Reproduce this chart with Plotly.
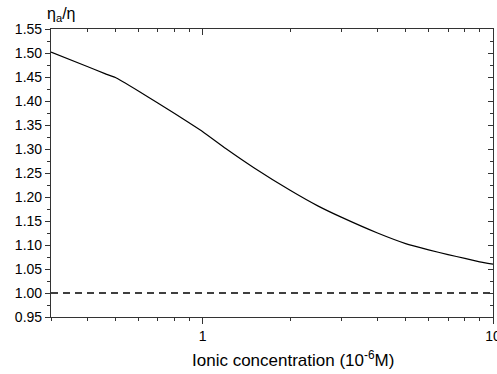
import plotly.graph_objects as go
import numpy as np

# ionic concentration (10^-6 M) and ratio eta_a/eta
conc = [0.3, 0.4, 0.46, 0.5, 0.6, 0.7, 0.8, 0.9, 1.0, 1.2, 1.5, 2, 2.5, 3, 4, 5, 6, 7, 8, 9, 10]
ratio = [1.502, 1.472, 1.457, 1.449, 1.421, 1.396, 1.374, 1.354, 1.336, 1.301, 1.261, 1.214,
         1.181, 1.158, 1.125, 1.103, 1.090, 1.080, 1.072, 1.065, 1.060]
ref_conc = [0.3, 10]
ref_ratio = [1.0, 1.0]

yticks = [0.95, 1.00, 1.05, 1.10, 1.15, 1.20, 1.25, 1.30, 1.35, 1.40, 1.45, 1.50, 1.55]
xticks = [1, 10]
xminor = [0.3, 0.4, 0.5, 0.6, 0.7, 0.8, 0.9, 2, 3, 4, 5, 6, 7, 8, 9]
yminor = list(np.round(np.arange(0.975, 1.55, 0.05), 3))

font = "Arial, Liberation Sans, sans-serif"
xr = [np.log10(0.3), 1]
yr = [0.95, 1.55]

fig = go.Figure()
fig.add_trace(go.Scatter(x=conc, y=ratio, mode="lines", line_shape="spline",
                         line=dict(color="black", width=1.2, smoothing=0.4), showlegend=False))
fig.add_trace(go.Scatter(x=ref_conc, y=ref_ratio, mode="lines",
                         line=dict(color="black", width=1.3, dash="7px,5px"), showlegend=False))
# invisible trace so the mirrored top/right axes get drawn
fig.add_trace(go.Scatter(x=ref_conc, y=ref_ratio, xaxis="x2", yaxis="y2", mode="lines",
                         line=dict(width=0), hoverinfo="skip", showlegend=False))

fig.update_layout(
    width=497, height=374,
    margin=dict(l=51, r=4, t=29, b=57, autoexpand=False),
    paper_bgcolor="white", plot_bgcolor="white",
    font=dict(family=font, size=13, color="black"),
    xaxis=dict(type="log", range=xr, tickvals=xticks, ticktext=["1", "10"],
               ticks="outside", ticklen=6, tickcolor="#333", showgrid=False,
               showline=True, linecolor="#333", linewidth=1.2, zeroline=False,
               tickfont=dict(size=14), ticklabeloverflow="allow", automargin=False,
               minor=dict(tickvals=xminor, ticks="outside", ticklen=3, tickcolor="#333")),
    yaxis=dict(range=yr, tickvals=yticks, tickformat=".2f",
               ticks="outside", ticklen=5, tickcolor="#333", showgrid=False,
               showline=True, linecolor="#333", linewidth=1.2, zeroline=False,
               tickfont=dict(size=14), automargin=False,
               minor=dict(tickvals=yminor, ticks="outside", ticklen=3, tickcolor="#333")),
    xaxis2=dict(type="log", range=xr, overlaying="x", side="top", tickvals=xticks,
                showticklabels=False, ticks="inside", ticklen=6, tickcolor="#333",
                showgrid=False, showline=True, linecolor="#333", linewidth=1.2,
                automargin=False,
                minor=dict(tickvals=xminor, ticks="inside", ticklen=3, tickcolor="#333")),
    yaxis2=dict(range=yr, overlaying="y", side="right", tickvals=yticks,
                showticklabels=False, ticks="inside", ticklen=5, tickcolor="#333",
                showgrid=False, showline=True, linecolor="#333", linewidth=1.2,
                automargin=False,
                minor=dict(tickvals=yminor, ticks="inside", ticklen=3, tickcolor="#333")),
)

fig.add_annotation(text="η<sub>a</sub>/η", xref="paper", yref="paper", x=-0.014, y=1.0,
                   xanchor="left", yanchor="bottom", yshift=3, showarrow=False,
                   font=dict(family=font, size=16))
fig.add_annotation(text="Ionic concentration (10<sup>-6</sup>M)", xref="paper", yref="paper",
                   x=0.548, y=0, xanchor="center", yanchor="top", yshift=-29,
                   showarrow=False, font=dict(family=font, size=17))

fig.write_html("out.html", config={"displayModeBar": False},
               post_script="document.body.style.margin='0';")
